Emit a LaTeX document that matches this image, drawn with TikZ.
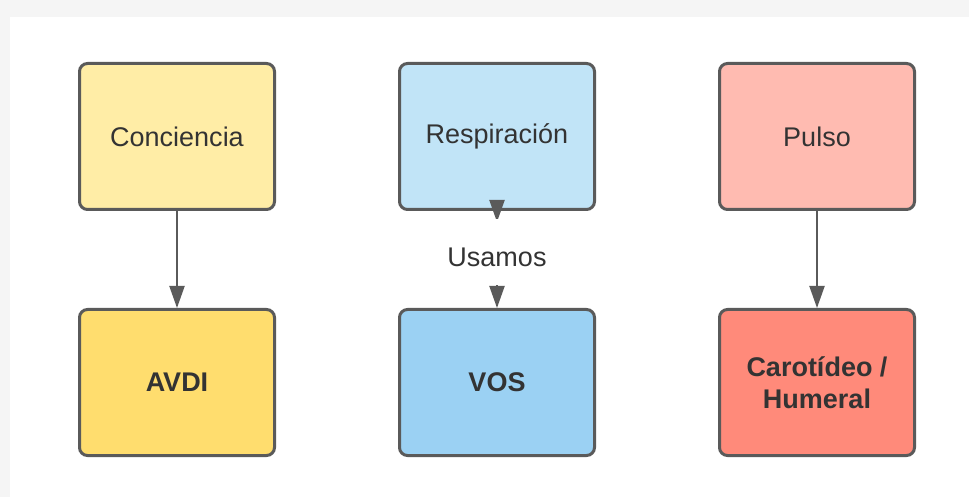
\documentclass[tikz,border=0pt]{standalone}
\usepackage{fontspec}
\setmainfont{Liberation Sans}
\usepackage{tikz}
\usetikzlibrary{positioning,arrows.meta}
\definecolor{textgray}{HTML}{333333}
\definecolor{linegray}{HTML}{5A5A5A}
\definecolor{yellowA}{HTML}{FFEDA6}
\definecolor{yellowB}{HTML}{FFDD6E}
\definecolor{blueA}{HTML}{C1E4F7}
\definecolor{blueB}{HTML}{9BD1F3}
\definecolor{redA}{HTML}{FFBBB1}
\definecolor{redB}{HTML}{FF8A7A}
\tikzset{box style/.style={
		draw=linegray,
		line width=1.5pt,
		rounded corners=4pt,
		rectangle,
		minimum width=97.5pt,
		minimum height=73pt,
		text=textgray,
		align=center,
		font=\fontsize{13.5}{16}\selectfont,
		fill=#1,
	},
	bold style/.style={
		box style=#1,
		font=\fontsize{13.5}{16}\selectfont\bfseries,
	},
	edge style/.style={
		draw=linegray,
		line width=1pt,
		-{Triangle[width=7.5pt,length=11pt]},
	},
	label style/.style={
		fill=white,
		text=textgray,
		font=\fontsize{13.5}{16}\selectfont,
		text height=14.7pt,
		text depth=0pt,
		minimum height=33pt,
		yshift=3.75pt,
	}
}

\begin{document}
\begin{tikzpicture}[x=0.5pt,y=-0.5pt,node distance=48.5pt and 61pt]
	\useasboundingbox (0,0) rectangle (969,497);
	\fill[gray!8] (0,0) rectangle (969,497);
	\fill[white] (10,17) rectangle (969,497);
	
	\node[box style=yellowA] (Conciencia) at (177,136.5) {Conciencia};
	\node[box style=blueA, right=of Conciencia] (Respiracion) {Respiración};
	\node[box style=redA, right=of Respiracion] (Pulso) {Pulso};
	
	\node[bold style=yellowB, below=of Conciencia] (AVDI) {AVDI};
	\node[bold style=blueB, below=of Respiracion] (VOS) {VOS};
	\node[bold style=redB, below=of Pulso] (Carotideo) {Carotídeo /\\Humeral};
	
	\draw[edge style] (Conciencia) -- (AVDI);
	\draw[edge style, {Triangle[width=7.5pt,length=11pt,reversed]}-{Triangle[width=7.5pt,length=11pt]}, shorten <=-5.5pt] (Respiracion) -- node[label style]{Usamos} (VOS);
	\draw[edge style] (Pulso) -- (Carotideo);
\end{tikzpicture}
\end{document}
